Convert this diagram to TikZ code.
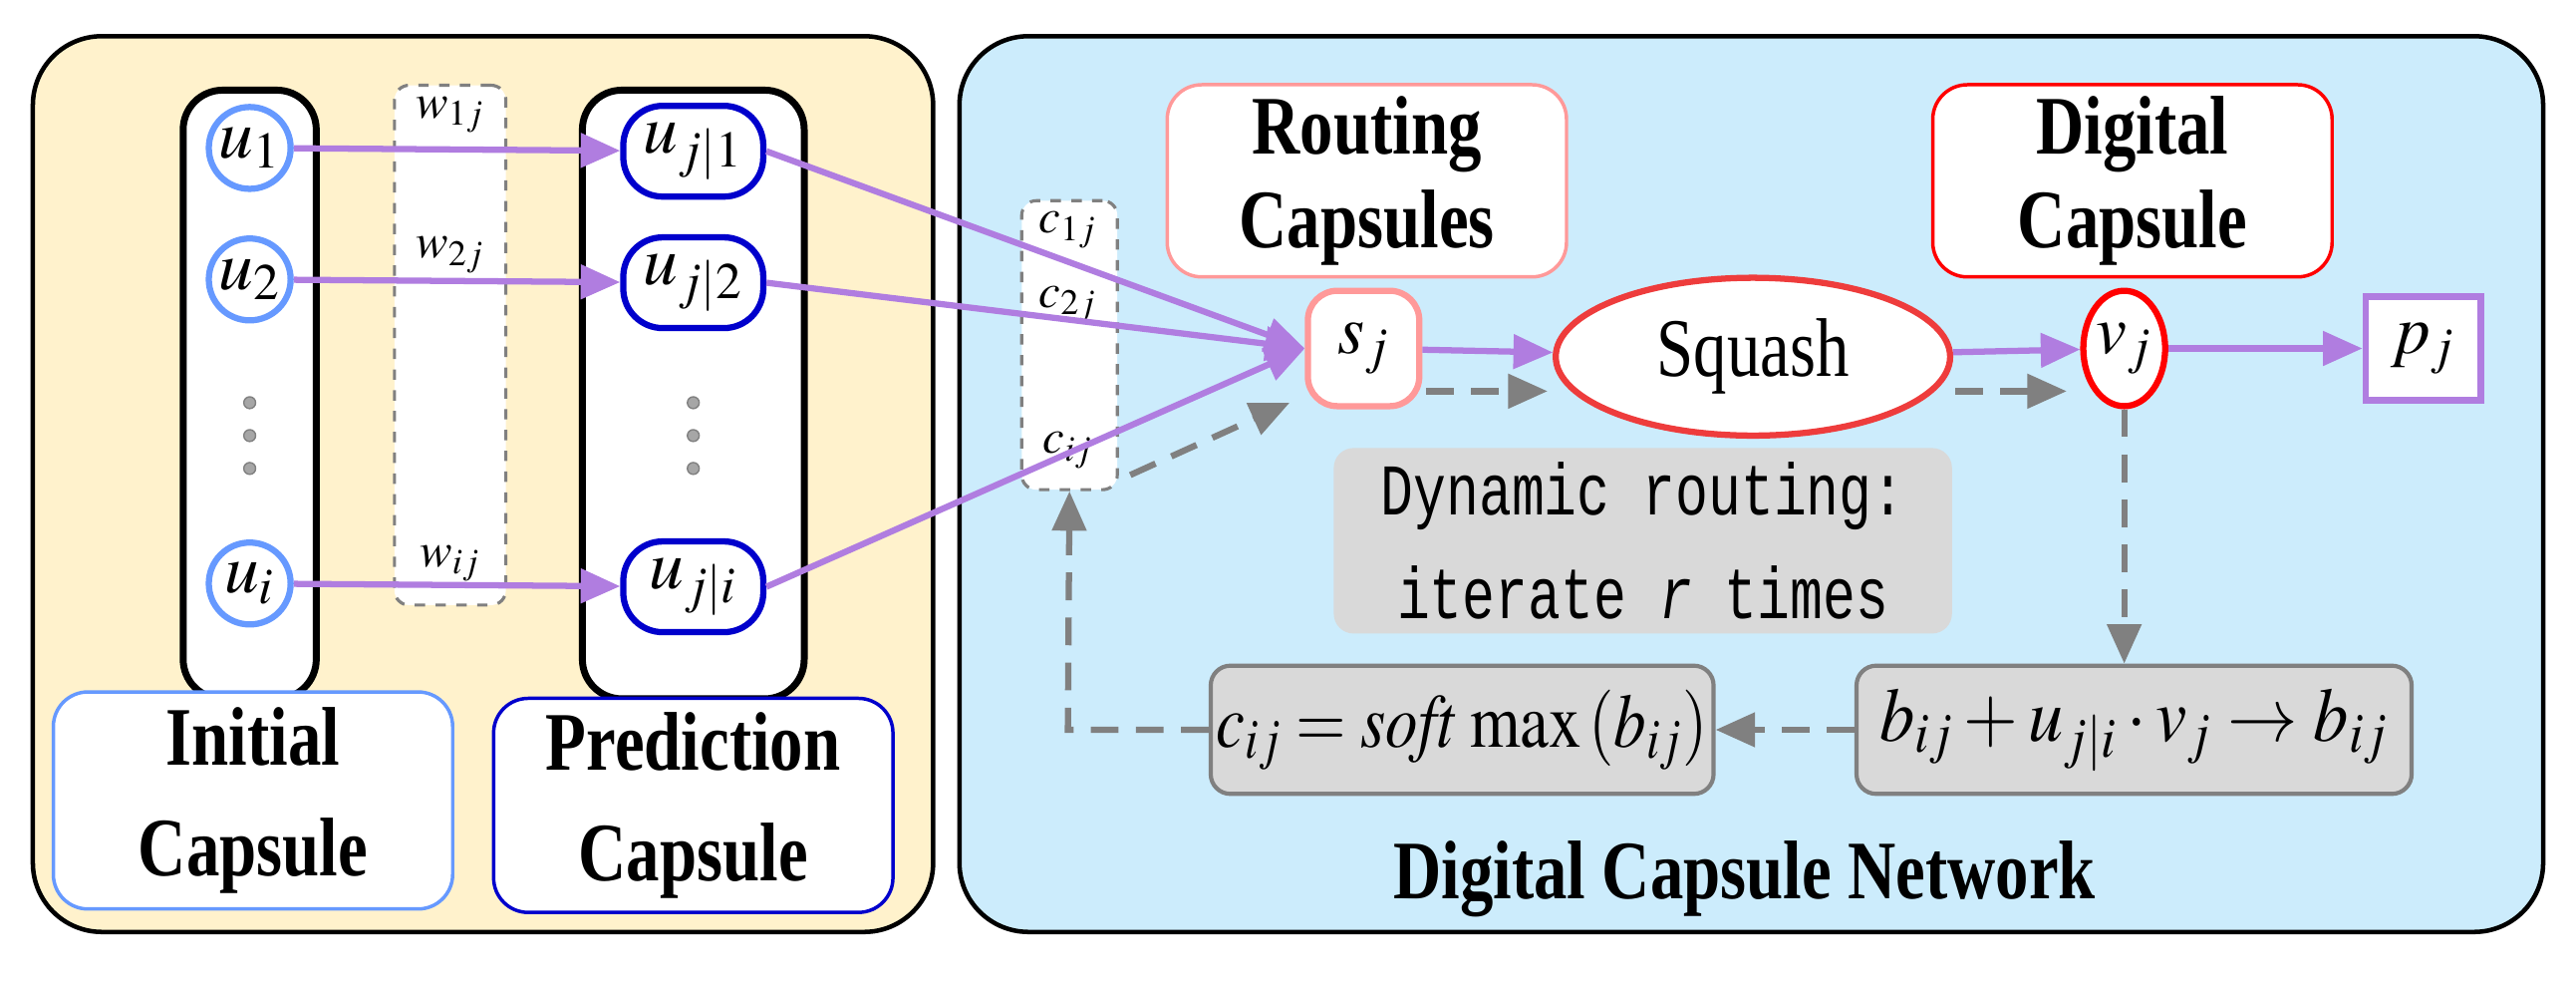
\documentclass[tikz,border=0pt]{standalone}
\usepackage{mathptmx}
\usepackage{fontspec}
\setmainfont{Liberation Serif}[FakeStretch=0.8]
\setmonofont{Liberation Mono}[FakeStretch=0.75]
\usetikzlibrary{arrows.meta, shapes.geometric, positioning}
\definecolor{panelA}{RGB}{255,242,204}
\definecolor{panelB}{RGB}{204,236,252}
\definecolor{blueA}{RGB}{102,153,255}
\definecolor{blueB}{RGB}{0,0,204}
\definecolor{pinkA}{RGB}{255,153,153}
\definecolor{redA}{RGB}{238,60,60}
\definecolor{purp}{RGB}{176,125,224}
\definecolor{grayA}{RGB}{217,217,217}
\definecolor{grayB}{RGB}{128,128,128}
\tikzset{
  panel/.style={draw=black, line width=1.3pt, rounded corners=0.7cm},
  column/.style={draw=black, fill=white, line width=2pt, rounded corners=0.4cm},
  wbox/.style={draw=grayB, dashed, fill=white, line width=0.9pt, rounded corners=0.15cm},
  title/.style={draw, fill=white, line width=1pt, rounded corners=0.35cm, align=center,
    font=\fontsize{24}{27}\selectfont\bfseries, minimum width=4.05cm, minimum height=1.6cm},
  ucirc/.style={circle, draw=blueA, fill=white, line width=1.8pt, minimum size=0.83cm, inner sep=0pt,
    font=\fontsize{20}{20}\selectfont},
  ubox/.style={draw=blueB, fill=white, line width=1.8pt, rounded corners=0.4cm, minimum width=1.42cm,
    minimum height=0.92cm, inner sep=0pt, font=\fontsize{20}{20}\selectfont},
  dotn/.style={circle, fill=grayB!70, draw=grayB, minimum size=0.12cm, inner sep=0pt},
  lab/.style={font=\fontsize{14}{14}\selectfont, inner sep=0pt},
  gbox/.style={draw=grayB, fill=grayA, line width=1.2pt, rounded corners=0.2cm, minimum height=1.3cm,
    inner sep=0pt, font=\fontsize{22}{22}\selectfont},
  parr/.style={draw=purp, line width=1.8pt, -{Triangle[length=0.4cm, width=0.34cm]}},
  garr/.style={draw=grayB, line width=1.8pt, dash pattern=on 8pt off 5pt, -{Triangle[length=0.4cm, width=0.34cm]}},
}
\begin{document}
\begin{tikzpicture}[x=0.016667cm, y=-0.016667cm]
  \useasboundingbox (0,0) rectangle (1568,602);
  % panels
  \draw[panel, fill=panelA] (20,22) rectangle (568,567);
  \draw[panel, fill=panelB] (584,22) rectangle (1548,567);

  % left panel
  \node[column, minimum width=1.35cm, minimum height=6.17cm] (colU) at (152,240) {};
  \node[column, minimum width=2.25cm, minimum height=6.17cm] (colP) at (422,240) {};
  \node[wbox, minimum width=1.13cm, minimum height=5.27cm] (wbox) at (274,210) {};
  \node[lab] (w1) at (274,70) {$w_{1j}$};
  \node[lab] (w2) at (274,155) {$w_{2j}$};
  \node[lab] (wi) at (274,343) {$w_{ij}$};

  \node[ucirc] (u1) at (152,90) {$u_1$};
  \node[ucirc] (u2) at (152,170) {$u_2$};
  \node[ucirc] (ui) at (152,355) {$u_i$};
  \node[ubox] (p1) at (422,92) {$u_{j|1}$};
  \node[ubox] (p2) at (422,172) {$u_{j|2}$};
  \node[ubox] (pi) at (422,357) {$u_{j|i}$};
  \foreach \y [count=\k] in {245,265,285} {
    \node[dotn] (du\k) at (152,\y) {};
    \node[dotn] (dp\k) at (422,\y) {};
  }
  \node[title, draw=blueA, minimum height=2.2cm, font=\fontsize{24}{32}\selectfont\bfseries] (init) at (154,487) {Initial\\Capsule};
  \node[title, draw=blueB, minimum height=2.17cm, font=\fontsize{24}{32}\selectfont\bfseries] (pred) at (422,490) {Prediction\\Capsule};

  \draw[parr] (u1) -- (p1);
  \draw[parr] (u2) -- (p2);
  \draw[parr] (ui) -- (pi);

  % right panel
  \node[wbox, minimum width=0.97cm, minimum height=2.93cm] (cbox) at (651,210) {};
  \node[lab] (c1) at (650,140) {$c_{1j}$};
  \node[lab] (c2) at (650,185) {$c_{2j}$};
  \node[lab] (ci) at (650,274) {$c_{ij}$};

  \node[title, draw=pinkA] (rout) at (832,110) {Routing\\Capsules};
  \node[title, draw=red] (digi) at (1298,110) {Digital\\Capsule};

  \node[draw=pinkA, fill=white, line width=1.8pt, rounded corners=0.3cm, minimum width=1.13cm,
    minimum height=1.17cm, font=\fontsize{20}{20}\selectfont] (s) at (830,212) {$s_j$};
  \node[ellipse, draw=redA, fill=white, line width=1.8pt, minimum width=4cm, minimum height=1.6cm,
    font=\fontsize{24}{24}\selectfont] (sq) at (1067,217) {Squash};
  \node[ellipse, draw=red, fill=white, line width=1.8pt, minimum width=0.83cm, minimum height=1.17cm,
    inner sep=0pt, font=\fontsize{20}{20}\selectfont] (v) at (1293,212) {$v_j$};
  \node[draw=purp, fill=white, line width=1.8pt, minimum width=1.17cm, minimum height=1.05cm,
    font=\fontsize{20}{20}\selectfont] (p) at (1475,212) {$p_j$};

  \node[fill=grayA, rounded corners=0.2cm, minimum width=6.27cm, minimum height=1.88cm, align=center,
    font=\fontsize{21}{30}\selectfont\ttfamily] (dyn) at (1000,329) {Dynamic routing:\\iterate \textit{r} times};
  \node[gbox, minimum width=5.1cm] (soft) at (890,444)
    {\scalebox{0.85}[1]{$c_{ij}=\mathit{soft}\,\max\left(b_{ij}\right)$}};
  \node[gbox, minimum width=5.63cm] (upd) at (1299,444)
    {\scalebox{0.92}[1]{$b_{ij}+u_{j|i}\cdot v_j\rightarrow b_{ij}$}};
  \node[font=\fontsize{24}{24}\selectfont\bfseries] (net) at (1062,535) {Digital Capsule Network};

  % connectors
  \draw[parr] (p1.east) -- (s.west);
  \draw[parr] (p2.east) -- (s.west);
  \draw[parr] (pi.east) -- (s.west);
  \draw[parr] (s) -- (sq);
  \draw[parr] (sq) -- (v);
  \draw[parr] (v) -- (p);

  \coordinate (sA) at (868,238);
  \coordinate (sB) at (942,238);
  \coordinate (qA) at (1190,238);
  \coordinate (qB) at (1258,238);
  \coordinate (cA) at (688,289);
  \coordinate (cB) at (785,245);
  \coordinate (turn) at (650,444);
  \draw[garr] (sA) -- (sB);
  \draw[garr] (qA) -- (qB);
  \draw[garr] (cA) -- (cB);
  \draw[garr] (v.south) -- (v.south |- upd.north);
  \draw[garr] (upd.west) -- (soft.east);
  \draw[garr] (soft.west) -- (turn) -- (cbox.south);
\end{tikzpicture}
\end{document}
